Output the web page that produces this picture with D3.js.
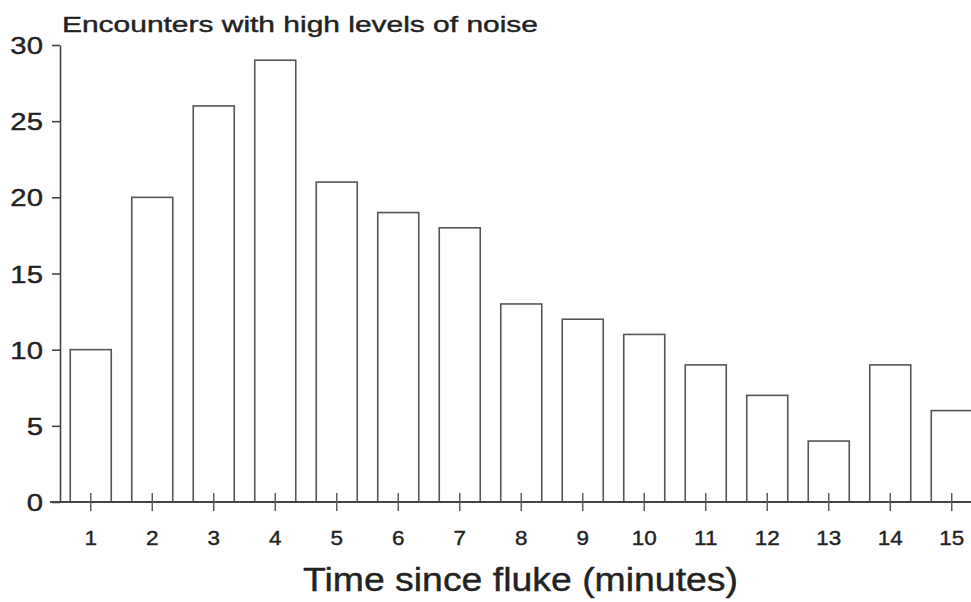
<!DOCTYPE html>
<html><head><meta charset="utf-8">
<script src="https://cdn.jsdelivr.net/npm/d3@7"></script>
<style>body{margin:0;background:#fff}svg{display:block}</style>
</head><body>
<svg id="c" width="971" height="602"></svg>
<script>
const categories = ["1","2","3","4","5","6","7","8","9","10","11","12","13","14","15"];
const values = [10,20,26,29,21,19,18,13,12,11,9,7,4,9,6];
const yTicks = [0,5,10,15,20,25,30];
const title = "Encounters with high levels of noise";
const xTitle = "Time since fluke (minutes)";

const svg = d3.select("#c");
const ink = "#222";
const font = "'Liberation Sans', Arial, Helvetica, sans-serif";

const x = d3.scaleBand().domain(categories).range([60, 982.5]).paddingInner(1/3).paddingOuter(1/6);
const y = d3.scaleLinear().domain([0, 30]).range([502, 45]);

// bars
svg.append("g").selectAll("rect").data(values).join("rect")
  .attr("x", (d, i) => x(categories[i]))
  .attr("y", d => y(d))
  .attr("width", x.bandwidth())
  .attr("height", d => y(0) - y(d))
  .attr("fill", "#fff")
  .attr("stroke", "#555")
  .attr("stroke-width", 1.6);

// y axis
const yAxis = svg.append("g").attr("transform", "translate(60,0)")
  .call(d3.axisLeft(y).tickValues(yTicks).tickSize(8).tickSizeOuter(0).tickFormat(d3.format("d")));
yAxis.select(".domain").attr("stroke", "#444").attr("stroke-width", 1.6);
yAxis.selectAll(".tick line").attr("stroke", "#444").attr("stroke-width", 1.6);
yAxis.selectAll(".tick text")
  .attr("x", -14).attr("dy", "0.36em")
  .attr("transform", "scale(1.22,1)")
  .attr("font-family", font).attr("font-size", 24).attr("fill", ink)
  .attr("stroke", ink).attr("stroke-width", 0.4);

// x axis
const xAxis = svg.append("g").attr("transform", `translate(0,${y(0)})`)
  .call(d3.axisBottom(x).tickSize(9).tickSizeOuter(0).tickPadding(19));
xAxis.select(".domain").remove();
xAxis.insert("line", ":first-child")
  .attr("x1", 50).attr("x2", 971).attr("y1", 0).attr("y2", 0)
  .attr("stroke", "#444").attr("stroke-width", 2);
xAxis.selectAll(".tick line").attr("y1", -9).attr("y2", 9).attr("stroke", "#555").attr("stroke-width", 1.4);
xAxis.selectAll(".tick text")
  .attr("transform", "scale(1.07,1)")
  .attr("font-family", font).attr("font-size", 21).attr("fill", ink)
  .attr("stroke", ink).attr("stroke-width", 0.4);

// title
svg.append("text")
  .attr("x", 62).attr("y", 32)
  .attr("textLength", 476).attr("lengthAdjust", "spacingAndGlyphs")
  .attr("font-family", font).attr("font-size", 22).attr("fill", ink)
  .attr("stroke", ink).attr("stroke-width", 0.4)
  .text(title);

// x title
svg.append("text")
  .attr("x", 303).attr("y", 591)
  .attr("textLength", 435).attr("lengthAdjust", "spacingAndGlyphs")
  .attr("font-family", font).attr("font-size", 33).attr("fill", ink)
  .attr("stroke", ink).attr("stroke-width", 0.4)
  .text(xTitle);
</script>
</body></html>
